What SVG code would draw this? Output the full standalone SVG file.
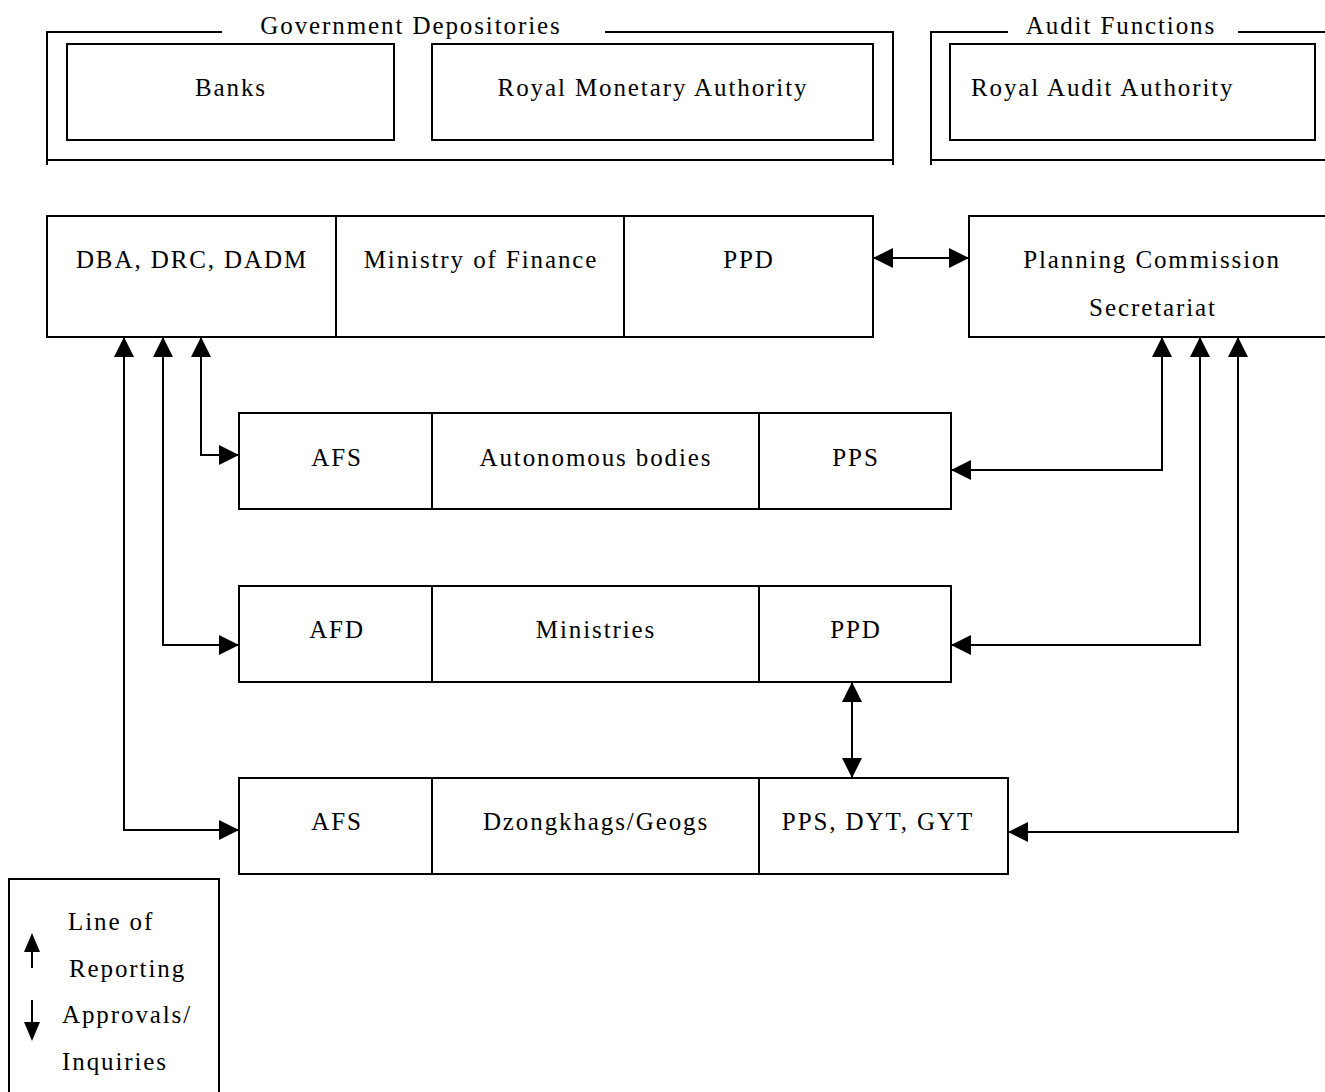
<svg xmlns="http://www.w3.org/2000/svg" width="1325" height="1092" viewBox="0 0 1325 1092">
<style>
  .bx{fill:#fff;stroke:#000;stroke-width:2}
  .ln{fill:none;stroke:#000;stroke-width:2}
  .t{font-family:"Liberation Serif","Times New Roman",serif;font-size:25px;letter-spacing:1.9px;fill:#000}
  .m{text-anchor:middle}
</style>
<defs>
  <marker id="ah" markerUnits="userSpaceOnUse" markerWidth="20" markerHeight="20" refX="20" refY="10" orient="auto-start-reverse">
    <path d="M0,0 L20,10 L0,20 Z" fill="#000"/>
  </marker>
</defs>
<rect width="1325" height="1092" fill="#fff"/>

<g id="gov-depositories">
  <path class="ln" d="M47,165 V32 H222 M605,32 H893 V165 M47,160 H893"/>
  <text class="t m" x="411" y="34">Government Depositories</text>
</g>
<g id="banks">
  <rect class="bx" x="67" y="44" width="327" height="96"/>
  <text class="t m" x="231" y="96">Banks</text>
</g>
<g id="rma">
  <rect class="bx" x="432" y="44" width="441" height="96"/>
  <text class="t m" x="653" y="96">Royal Monetary Authority</text>
</g>

<g id="audit-functions">
  <path class="ln" d="M931,165 V32 H1008 M1238,32 H1325 M931,160 H1325"/>
  <text class="t m" x="1121" y="34">Audit Functions</text>
</g>
<g id="raa">
  <rect class="bx" x="950" y="44" width="365" height="96"/>
  <text class="t" x="971" y="96">Royal Audit Authority</text>
</g>

<g id="mof">
  <rect class="bx" x="47" y="216" width="826" height="121"/>
  <path class="ln" d="M336,216 V337 M624,216 V337"/>
  <text class="t m" x="192" y="268">DBA, DRC, DADM</text>
  <text class="t m" x="481" y="268">Ministry of Finance</text>
  <text class="t m" x="749" y="268">PPD</text>
</g>
<g id="pcs">
  <rect class="bx" x="969" y="216" width="365" height="121"/>
  <text class="t m" x="1152" y="268">Planning Commission</text>
  <text class="t m" x="1153" y="316">Secretariat</text>
</g>

<g id="autonomous">
  <rect class="bx" x="239" y="413" width="712" height="96"/>
  <path class="ln" d="M432,413 V509 M759,413 V509"/>
  <text class="t m" x="337" y="466">AFS</text>
  <text class="t m" x="596" y="466">Autonomous bodies</text>
  <text class="t m" x="856" y="466">PPS</text>
</g>
<g id="ministries">
  <rect class="bx" x="239" y="586" width="712" height="96"/>
  <path class="ln" d="M432,586 V682 M759,586 V682"/>
  <text class="t m" x="337" y="638">AFD</text>
  <text class="t m" x="596" y="638">Ministries</text>
  <text class="t m" x="856" y="638">PPD</text>
</g>
<g id="dzongkhags">
  <rect class="bx" x="239" y="778" width="769" height="96"/>
  <path class="ln" d="M432,778 V874 M759,778 V874"/>
  <text class="t m" x="337" y="830">AFS</text>
  <text class="t m" x="596" y="830">Dzongkhags/Geogs</text>
  <text class="t m" x="878" y="830">PPS, DYT, GYT</text>
</g>

<g id="connectors">
  <path class="ln" d="M873,258 H969" marker-start="url(#ah)" marker-end="url(#ah)"/>
  <path class="ln" d="M124,337 V830 H239" marker-start="url(#ah)" marker-end="url(#ah)"/>
  <path class="ln" d="M163,337 V645 H239" marker-start="url(#ah)" marker-end="url(#ah)"/>
  <path class="ln" d="M201,337 V455 H239" marker-start="url(#ah)" marker-end="url(#ah)"/>
  <path class="ln" d="M1162,337 V470 H951" marker-start="url(#ah)" marker-end="url(#ah)"/>
  <path class="ln" d="M1200,337 V645 H951" marker-start="url(#ah)" marker-end="url(#ah)"/>
  <path class="ln" d="M1238,337 V832 H1008" marker-start="url(#ah)" marker-end="url(#ah)"/>
  <path class="ln" d="M852,682 V778" marker-start="url(#ah)" marker-end="url(#ah)"/>
</g>

<g id="legend">
  <rect class="bx" x="9" y="879" width="210" height="220"/>
  <path class="ln" d="M32,968 V952"/>
  <path d="M24,952 L32,933 L40,952 Z" fill="#000"/>
  <path class="ln" d="M32,1000 V1022"/>
  <path d="M24,1022 L32,1041 L40,1022 Z" fill="#000"/>
  <text class="t" x="68" y="930">Line of</text>
  <text class="t" x="69" y="977">Reporting</text>
  <text class="t" x="62" y="1023">Approvals/</text>
  <text class="t" x="62" y="1070">Inquiries</text>
</g>
</svg>
